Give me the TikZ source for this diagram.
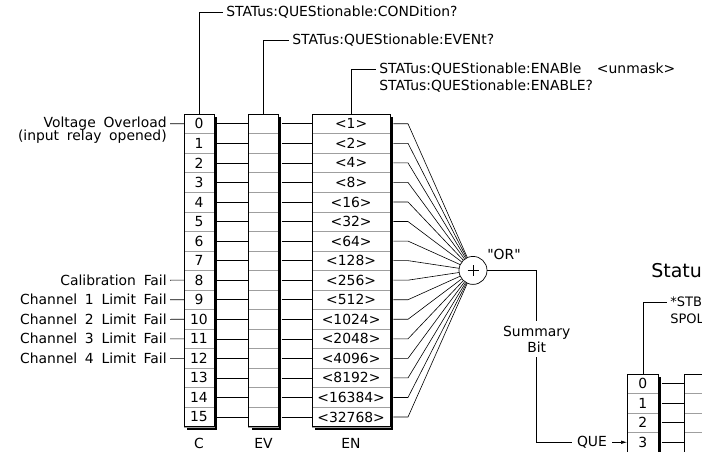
\documentclass[tikz,border=0pt]{standalone}
\usepackage{fontspec}
\setmainfont{DejaVu Sans}[WordSpace=1.75]
\newfontfamily\quotefont{DejaVu Sans}
\usetikzlibrary{arrows.meta}
\begin{document}
\begin{tikzpicture}[x=1pt,y=-1pt,
  font=\fontsize{13.9}{16}\selectfont,
  line width=0.6pt,
  cell/.style={draw=gray!75, line width=0.5pt, minimum width=#1, minimum height=19.55pt, inner sep=0pt},
  rcell/.style={draw=gray!75, line width=0.5pt, minimum width=#1, minimum height=19.5pt, inner sep=0pt},
  regframe/.style={draw=black, line width=0.8pt},
  shadowfill/.style={fill=black},
  lbl/.style={inner sep=3pt},
  conn/.style={draw=black, line width=0.6pt}]
\useasboundingbox (0,0) rectangle (702,452);
\clip (0,0) rectangle (702,452);

% ---- shadows and white bodies of the three registers
\fill[shadowfill] (187,117) rectangle (217,429.8);
\fill[white] (184,114) rectangle (214,426.8);
\fill[shadowfill] (251.7,117) rectangle (281.3,429.8);
\fill[white] (248.7,114) rectangle (278.3,426.8);
\fill[shadowfill] (315.3,117) rectangle (393,429.8);
\fill[white] (312.3,114) rectangle (390,426.8);

% ---- cells
\foreach \i/\v in {0/1,1/2,2/4,3/8,4/16,5/32,6/64,7/128,8/256,9/512,10/1024,11/2048,12/4096,13/8192,14/16384,15/32768} {
  \pgfmathsetmacro\yc{114+(\i+0.5)*19.55}
  \node[cell=30pt] (C\i) at (199,\yc) {\i};
  \node[cell=29.6pt] (EV\i) at (263.5,\yc) {};
  \node[cell=77.7pt] (EN\i) at (351.15,\yc) {<\v>};
  \coordinate (F\i) at (408,\yc);
}
\draw[regframe] (184,114) rectangle (214,426.8);
\draw[regframe] (248.7,114) rectangle (278.3,426.8);
\draw[regframe] (312.3,114) rectangle (390,426.8);

% ---- OR node
\node[circle, draw, line width=0.7pt, minimum size=28pt, inner sep=0pt] (or) at (473,270.4) {};
\draw[line width=0.6pt] ([xshift=-5.5pt]or.center) -- ([xshift=5.5pt]or.center);
\draw[line width=0.6pt] ([yshift=-5.5pt]or.center) -- ([yshift=5.5pt]or.center);
\node[font=\quotefont\fontsize{13.9}{16}\selectfont] (orlbl) at (504,254) {"OR"};

% ---- connectors between registers and fan into OR
\foreach \i in {0,...,15} {
  \draw[conn] ([xshift=3pt]C\i.east) -- (EV\i.west);
  \draw[conn] ([xshift=3pt]EV\i.east) -- (EN\i.west);
  \draw[conn] ([xshift=3pt]EN\i.east) -- (F\i) -- (or);
}

% ---- top labels
\node[lbl, anchor=west] (tA) at (223,12) {STATus:QUEStionable:CONDition?};
\draw[conn] (C0.north) |- (tA.west);
\node[lbl, anchor=west] (tB) at (289,40) {STATus:QUEStionable:EVENt?};
\draw[conn] (EV0.north) |- (tB.west);
\node[lbl, anchor=west] (tC) at (376,69.5) {STATus:QUEStionable:ENABle\ \ <unmask>};
\node[lbl, anchor=west] (tD) at (376,86.5) {STATus:QUEStionable:ENABLE?};
\draw[conn] (EN0.north) |- (tC.west);

% ---- left labels
\node[lbl, anchor=east] (l0) at (170,123.8) {Voltage Overload};
\node[lbl, anchor=east] (l0b) at (170,137) {(input relay opened)};
\draw[conn] (l0.east) -- (C0.west);
\node[lbl, anchor=east] (l8) at (170,280.2) {Calibration Fail};
\draw[conn] (l8.east) -- (C8.west);
\node[lbl, anchor=east] (l9) at (170,299.7) {Channel 1 Limit Fail};
\draw[conn] (l9.east) -- (C9.west);
\node[lbl, anchor=east] (l10) at (170,319.3) {Channel 2 Limit Fail};
\draw[conn] (l10.east) -- (C10.west);
\node[lbl, anchor=east] (l11) at (170,338.8) {Channel 3 Limit Fail};
\draw[conn] (l11.east) -- (C11.west);
\node[lbl, anchor=east] (l12) at (170,358.4) {Channel 4 Limit Fail};
\draw[conn] (l12.east) -- (C12.west);

% ---- bottom labels
\node (bC) at (199,443) {C};
\node (bEV) at (263.5,443) {EV};
\node (bEN) at (351,443) {EN};

% ---- right register (status byte, partly visible)
\fill[shadowfill] (630.3,377) rectangle (661.3,480);
\fill[white] (627.3,374) rectangle (658.3,477);
\fill[white] (684.3,374) rectangle (740,477);
\foreach \i in {0,...,3} {
  \pgfmathsetmacro\yc{374+(\i+0.5)*19.5}
  \node[rcell=31pt] (R\i) at (642.8,\yc) {\i};
  \node[rcell=50pt] (S\i) at (709.3,\yc) {};
  \draw[conn] ([xshift=3pt]R\i.east) -- (S\i.west);
}
\draw[regframe] (627.3,374) rectangle (658.3,477);
\draw[regframe] (684.3,374) rectangle (740,477);

\node[anchor=west, inner sep=0pt, font=\fontsize{19}{21}\selectfont] (st) at (651,271) {Statu};
\node[lbl, anchor=west, font=\fontsize{13}{15}\selectfont] (stb) at (667,302) {*STB};
\node[lbl, anchor=west, font=\fontsize{13}{15}\selectfont] (spo) at (667,319) {SPOL};
\draw[conn] (R0.north) |- (stb.west);

% ---- summary output
\coordinate (o1) at (536.7,270.4);
\node[align=center, inner xsep=3pt, inner ysep=5pt] (sum) at (536.7,339) {Summary\\Bit};
\coordinate (q1) at (536.7,442.25);
\node[lbl, inner xsep=5pt] (que) at (592,442.25) {QUE};
\draw[conn] (or.east) -- (o1) -- (sum.north);
\draw[conn] (sum.south) -- (q1) -- (que.west);
\draw[conn, -{Latex[length=6pt,width=3.5pt]}] (que.east) -- (R3.west);
\end{tikzpicture}
\end{document}
